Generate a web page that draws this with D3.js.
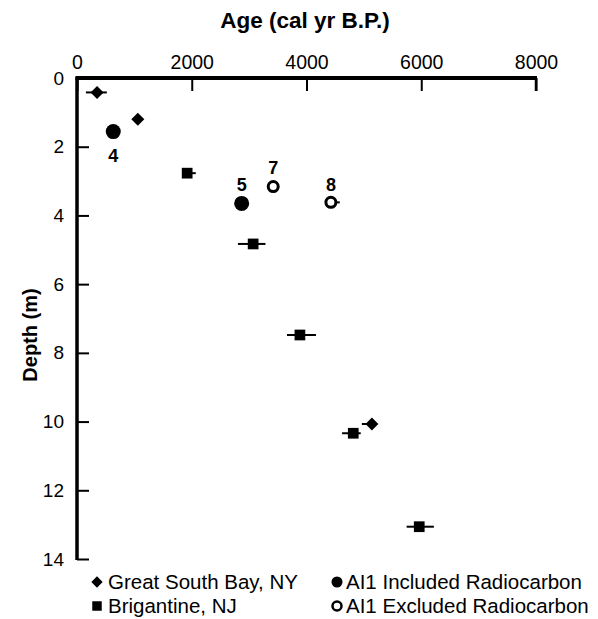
<!DOCTYPE html>
<html>
<head>
<meta charset="utf-8">
<script src="https://cdn.jsdelivr.net/npm/d3@7"></script>
<style>
  html, body { margin: 0; padding: 0; background: #fff; }
  svg { display: block; font-family: "Liberation Sans", Arial, sans-serif; }
</style>
</head>
<body>
<svg id="chart" width="598" height="619"></svg>
<script>
// Age–depth data (ages in cal yr B.P., depths in m, errors as age offsets)
const gsbAge = [350, 1060, 5140];
const gsbDepth = [0.42, 1.2, 10.07];
const gsbErrLo = [195, 0, 175];
const gsbErrHi = [170, 0, 0];

const brigAge = [1920, 3070, 3885, 4815, 5965];
const brigDepth = [2.77, 4.83, 7.48, 10.34, 13.06];
const brigErrLo = [0, 265, 225, 195, 220];
const brigErrHi = [150, 215, 280, 130, 255];

const inclAge = [632, 2870];
const inclDepth = [1.56, 3.65];
const inclLabel = ["4", "5"];

const exclAge = [3420, 4425];
const exclDepth = [3.16, 3.62];
const exclErrHi = [0, 155];
const exclLabel = ["7", "8"];

const ageTicks = [0, 2000, 4000, 6000, 8000];
const depthTicks = [0, 2, 4, 6, 8, 10, 12, 14];

const legendItems = [
  { label: "Great South Bay, NY", kind: "diamond", col: 0, row: 0 },
  { label: "Brigantine, NJ", kind: "square", col: 0, row: 1 },
  { label: "AI1 Included Radiocarbon", kind: "filled", col: 1, row: 0 },
  { label: "AI1 Excluded Radiocarbon", kind: "open", col: 1, row: 1 }
];

const svg = d3.select("#chart");
const x = d3.scaleLinear().domain([0, 8000]).range([77, 536]);
const y = d3.scaleLinear().domain([0, 14]).range([78, 559]);

// Top (age) axis
const xAxis = svg.append("g").attr("transform", `translate(0,${y(0)})`)
  .call(d3.axisBottom(x).tickValues(ageTicks).tickSize(13).tickFormat(d3.format("d")));
xAxis.select(".domain").remove();
xAxis.selectAll(".tick line").attr("stroke", "#000").attr("stroke-width", 2);
xAxis.selectAll(".tick text").attr("y", -9).attr("dy", 0)
  .attr("font-size", 19.5).attr("fill", "#000");
svg.append("line").attr("x1", x(0) - 1.5).attr("x2", x(8000) + 1)
  .attr("y1", y(0)).attr("y2", y(0)).attr("stroke", "#000").attr("stroke-width", 4);
svg.append("line").attr("x1", x(8000)).attr("x2", x(8000))
  .attr("y1", y(0)).attr("y2", y(0) + 13).attr("stroke", "#000").attr("stroke-width", 2.5);

// Left (depth) axis
const yAxis = svg.append("g").attr("transform", `translate(${x(0)},0)`)
  .call(d3.axisRight(y).tickValues(depthTicks).tickSize(12));
yAxis.select(".domain").remove();
yAxis.selectAll(".tick line").attr("stroke", "#000").attr("stroke-width", 2);
yAxis.selectAll(".tick").filter(d => d === 0).select("line").remove();
yAxis.selectAll(".tick text").attr("x", -13).attr("text-anchor", "end")
  .attr("font-size", 19).attr("fill", "#000");
svg.append("line").attr("x1", x(0)).attr("x2", x(0))
  .attr("y1", y(0) - 1).attr("y2", y(14) + 1).attr("stroke", "#000").attr("stroke-width", 3.5);

// Axis titles
svg.append("text").attr("x", 305).attr("y", 28).attr("text-anchor", "middle")
  .attr("font-size", 22.5).attr("font-weight", "bold").text("Age (cal yr B.P.)");
svg.append("text").attr("transform", "translate(37,335) rotate(-90)")
  .attr("text-anchor", "middle").attr("font-size", 20).attr("font-weight", "bold")
  .text("Depth (m)");

// Error bars
function errBars(ages, depths, lo, hi) {
  svg.append("g").selectAll("line").data(ages).join("line")
    .attr("x1", (d, i) => x(d - lo[i])).attr("x2", (d, i) => x(d + hi[i]))
    .attr("y1", (d, i) => y(depths[i])).attr("y2", (d, i) => y(depths[i]))
    .attr("stroke", "#000").attr("stroke-width", 2);
}
errBars(gsbAge, gsbDepth, gsbErrLo, gsbErrHi);
errBars(brigAge, brigDepth, brigErrLo, brigErrHi);
errBars(exclAge, exclDepth, exclAge.map(() => 0), exclErrHi);

const diamond = d3.symbol().type(d3.symbolSquare).size(84);
const square = d3.symbol().type(d3.symbolSquare).size(115);

// Great South Bay (diamonds)
svg.append("g").selectAll("path").data(gsbAge).join("path")
  .attr("d", diamond)
  .attr("transform", (d, i) => `translate(${x(d)},${y(gsbDepth[i])}) rotate(45)`)
  .attr("fill", "#000");

// Brigantine (squares)
svg.append("g").selectAll("path").data(brigAge).join("path")
  .attr("d", square)
  .attr("transform", (d, i) => `translate(${x(d)},${y(brigDepth[i])})`)
  .attr("fill", "#000");

// AI1 included radiocarbon (filled circles)
svg.append("g").selectAll("circle").data(inclAge).join("circle")
  .attr("cx", d => x(d)).attr("cy", (d, i) => y(inclDepth[i])).attr("r", 7.5)
  .attr("fill", "#000");

// AI1 excluded radiocarbon (open circles)
svg.append("g").selectAll("circle").data(exclAge).join("circle")
  .attr("cx", d => x(d)).attr("cy", (d, i) => y(exclDepth[i])).attr("r", 5)
  .attr("fill", "#fff").attr("stroke", "#000").attr("stroke-width", 3);

// Sample numbers
const labelOffset = { "4": 24, "5": -19, "7": -19, "8": -18 };
svg.append("g").selectAll("text").data(inclAge.concat(exclAge)).join("text")
  .attr("x", d => x(d))
  .attr("y", (d, i) => {
    const lab = inclLabel.concat(exclLabel)[i];
    return y(inclDepth.concat(exclDepth)[i]) + labelOffset[lab];
  })
  .attr("dy", "0.35em").attr("text-anchor", "middle")
  .attr("font-size", 18).attr("font-weight", "bold")
  .text((d, i) => inclLabel.concat(exclLabel)[i]);

// Legend
const legend = svg.append("g");
const colX = [97, 337];
const rowY = [582, 606];
const item = legend.selectAll("g").data(legendItems).join("g")
  .attr("transform", d => `translate(${colX[d.col]},${rowY[d.row]})`);
item.filter(d => d.kind === "diamond").append("path")
  .attr("d", d3.symbol().type(d3.symbolSquare).size(64)).attr("transform", "rotate(45)");
item.filter(d => d.kind === "square").append("path")
  .attr("d", d3.symbol().type(d3.symbolSquare).size(90));
item.filter(d => d.kind === "filled").append("circle").attr("r", 5.5);
item.filter(d => d.kind === "open").append("circle").attr("r", 4.5)
  .attr("fill", "#fff").attr("stroke", "#000").attr("stroke-width", 2.5);
item.append("text").attr("x", d => d.col === 0 ? 11 : 9).attr("dy", "0.35em")
  .attr("font-size", 20.5).attr("fill", "#000").text(d => d.label);
</script>
</body>
</html>
